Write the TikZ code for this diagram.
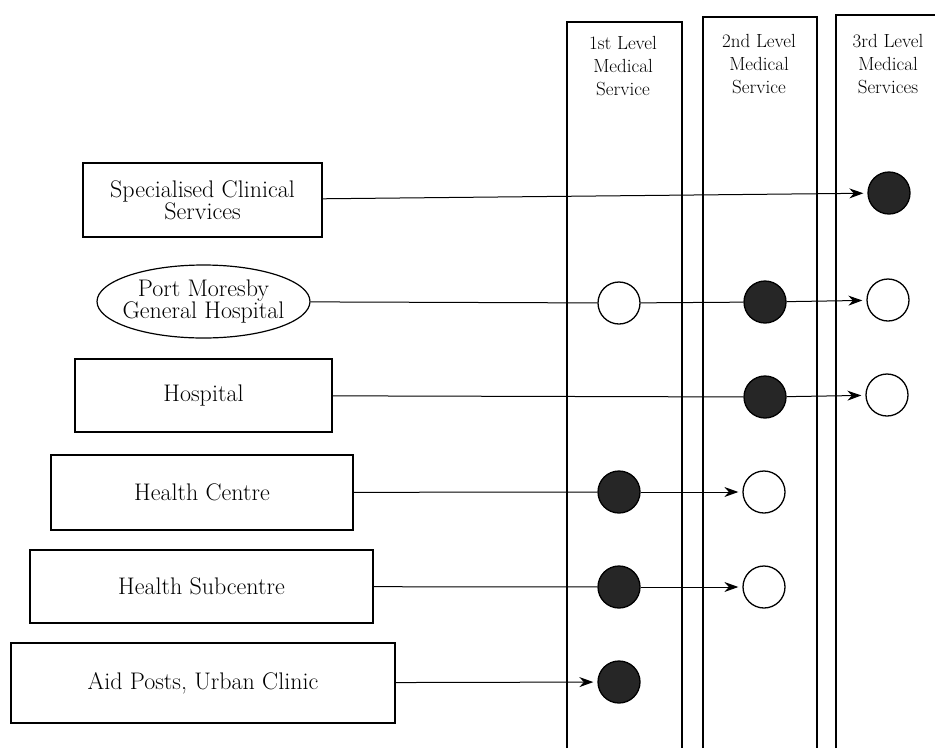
\documentclass[tikz,border=0pt]{standalone}
\usetikzlibrary{arrows.meta,shapes.geometric}
\begin{document}
\begin{tikzpicture}[x=1pt,y=-1pt,
  facility/.style={draw,line width=1.2pt,rectangle,inner sep=0pt,align=center,
    font=\fontsize{24}{22}\selectfont},
  hospital/.style={draw,line width=1.2pt,ellipse,inner xsep=-30pt,inner ysep=-12pt,
    align=center,font=\fontsize{24}{21}\selectfont},
  levelhead/.style={align=center,font=\fontsize{19}{23}\selectfont},
  column/.style={line width=2.2pt},
  dot/.style={circle,draw,line width=1.3pt,minimum size=42pt,inner sep=0pt},
  full/.style={dot,fill=black!85},
  empty/.style={dot,fill=white},
  link/.style={line width=1pt},
  flow/.style={link,-{Stealth[length=14pt,width=10pt]},shorten >=4pt}
]
\useasboundingbox (0,0) rectangle (935,748);

% service level columns (open at the bottom)
\draw[column] (567,748) -- (567,22) -- (682,22) -- (682,748);
\draw[column] (703,748) -- (703,17) -- (817,17) -- (817,748);
\draw[column] (836,748) -- (836,15) -- (940,15);

\node[levelhead] (h1) at (623,66) {1st Level\\Medical\\Service};
\node[levelhead] (h2) at (759,64) {2nd Level\\Medical\\Service};
\node[levelhead] (h3) at (888,64) {3rd Level\\Medical\\Services};

% facilities
\node[facility,minimum width=239pt,minimum height=74pt] (spec) at (202.5,200)
  {Specialised Clinical\\Services};
\node[hospital,minimum width=213pt,minimum height=73pt] (pmgh) at (203.5,301.5)
  {Port Moresby\\General Hospital};
\node[facility,minimum width=257pt,minimum height=73pt] (hosp) at (203.5,395.5)
  {Hospital};
\node[facility,minimum width=302pt,minimum height=75pt] (hc) at (202,492.5)
  {Health Centre};
\node[facility,minimum width=343pt,minimum height=73pt] (hsc) at (201.5,586.5)
  {Health Subcentre};
\node[facility,minimum width=384pt,minimum height=80pt] (aid) at (203,683)
  {Aid Posts, Urban Clinic};

% service markers
\node[full]  (spec3) at (889,193) {};
\node[empty] (pm1)   at (619,303) {};
\node[full]  (pm2)   at (765,302) {};
\node[empty] (pm3)   at (888,300) {};
\node[full]  (ho2)   at (765,397) {};
\node[empty] (ho3)   at (887,395) {};
\node[full]  (hc1)   at (619,492) {};
\node[empty] (hc2)   at (764,492) {};
\node[full]  (hs1)   at (619,587) {};
\node[empty] (hs2)   at (764,587) {};
\node[full]  (ap1)   at (619,682) {};

% connections
\draw[flow] (spec) -- (spec3);
\draw[link] (pmgh) -- (pm1);
\draw[link] (pm1) -- (pm2);
\draw[flow] (pm2) -- (pm3);
\draw[link] (hosp) -- (ho2);
\draw[flow] (ho2) -- (ho3);
\draw[link] (hc) -- (hc1);
\draw[flow] (hc1) -- (hc2);
\draw[link] (hsc) -- (hs1);
\draw[flow] (hs1) -- (hs2);
\draw[flow] (aid) -- (ap1);
\end{tikzpicture}
\end{document}
